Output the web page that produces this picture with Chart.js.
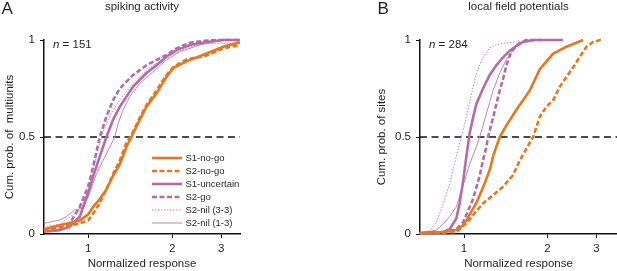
<!DOCTYPE html>
<html>
<head>
<meta charset="utf-8">
<script src="https://cdn.jsdelivr.net/npm/chart.js@4.4.1/dist/chart.umd.min.js"></script>
<style>
  html, body { margin: 0; padding: 0; background: #fff; }
  #wrap { position: relative; width: 617px; height: 271px; overflow: hidden; }
  canvas { position: absolute; top: 0; }
  #chartA { left: 0; }
  #chartB { left: 310px; }
</style>
</head>
<body>
<div id="wrap">
  <canvas id="chartA" width="310" height="271"></canvas>
  <canvas id="chartB" width="307" height="271"></canvas>
</div>
<script>
const FONT = "'Liberation Sans', Arial, sans-serif";
const TEXT = '#231f20';
const ORANGE = '#e8761f';
const PURPLE = '#b56ba9';
const PURPLE_THIN = '#c083b7';

const seriesLabels = ['S1-no-go', 'S2-no-go', 'S1-uncertain', 'S2-go', 'S2-nil (3-3)', 'S2-nil (1-3)'];
const xTicks = [1, 2, 3];
const yTicks = [0, 0.5, 1];
const halfLevel = 0.5;

// panel A: spiking activity (n = 151)
const aRangeX = [0.695, 3.5];
const aS1NogoX = [0.695, 0.791, 0.934, 1.0, 1.042, 1.101, 1.163, 1.229, 1.299, 1.372, 1.43, 1.532, 1.619, 1.758, 1.909, 2.017, 2.251, 2.656, 3.047, 3.497];
const aS1NogoY = [0.025, 0.045, 0.07, 0.10, 0.14, 0.18, 0.23, 0.30, 0.36, 0.45, 0.50, 0.59, 0.656, 0.725, 0.81, 0.855, 0.89, 0.93, 0.965, 0.988];
const aS2NogoX = [0.695, 0.791, 0.934, 1.0, 1.042, 1.101, 1.163, 1.229, 1.299, 1.372, 1.43, 1.532, 1.619, 1.758, 1.909, 2.017, 2.251, 2.656, 3.047, 3.497];
const aS2NogoY = [0.017, 0.03, 0.055, 0.07, 0.105, 0.16, 0.23, 0.31, 0.38, 0.47, 0.51, 0.60, 0.665, 0.74, 0.82, 0.86, 0.90, 0.92, 0.957, 0.975];
const aS1UncX = [0.695, 0.791, 0.86, 0.934, 1.0, 1.042, 1.101, 1.163, 1.229, 1.299, 1.372, 1.45, 1.619, 1.758, 1.909, 2.073, 2.314, 2.656, 3.047, 3.497];
const aS1UncY = [0.012, 0.02, 0.038, 0.09, 0.21, 0.296, 0.40, 0.50, 0.59, 0.656, 0.708, 0.76, 0.83, 0.87, 0.914, 0.948, 0.974, 0.99, 1.0, 1.0];
const aS2GoX = [0.695, 0.791, 0.86, 0.934, 1.0, 1.042, 1.101, 1.163, 1.229, 1.299, 1.372, 1.45, 1.619, 1.758, 1.909, 2.073, 2.314, 2.656, 2.964, 3.497];
const aS2GoY = [0.02, 0.034, 0.055, 0.14, 0.244, 0.347, 0.50, 0.605, 0.69, 0.75, 0.785, 0.82, 0.87, 0.897, 0.923, 0.957, 0.986, 0.997, 1.0, 1.0];
const aNil33X = [0.695, 0.791, 0.934, 1.0, 1.042, 1.116, 1.163, 1.229, 1.299, 1.45, 1.619, 1.909, 2.314, 2.656, 3.497];
const aNil33Y = [0.038, 0.05, 0.124, 0.22, 0.33, 0.50, 0.57, 0.64, 0.69, 0.777, 0.845, 0.914, 0.966, 0.983, 0.983];
const aNil13X = [0.695, 0.791, 0.836, 0.896, 0.946, 1.0, 1.071, 1.132, 1.196, 1.246, 1.281, 1.335, 1.41, 1.532, 1.71, 1.909, 2.131, 2.513, 2.964, 3.497];
const aNil13Y = [0.055, 0.072, 0.09, 0.124, 0.132, 0.19, 0.31, 0.38, 0.45, 0.50, 0.57, 0.64, 0.708, 0.777, 0.837, 0.897, 0.94, 0.974, 0.997, 1.0];

// panel B: local field potentials (n = 284)
const bRangeX = [0.694, 3.56];
const bS1NogoX = [0.692, 0.84, 0.938, 0.992, 1.02, 1.048, 1.108, 1.171, 1.238, 1.273, 1.308, 1.345, 1.422, 1.545, 1.633, 1.726, 1.876, 2.096, 2.341, 2.689];
const bS1NogoY = [0.005, 0.01, 0.02, 0.045, 0.07, 0.10, 0.16, 0.24, 0.33, 0.40, 0.45, 0.50, 0.56, 0.64, 0.69, 0.74, 0.85, 0.93, 0.965, 1.0];
const bS2NogoX = [0.692, 0.938, 1.02, 1.078, 1.171, 1.273, 1.383, 1.503, 1.589, 1.679, 1.775, 1.876, 1.983, 2.096, 2.215, 2.341, 2.475, 2.616, 2.765, 2.923, 3.089, 3.176];
const bS2NogoY = [0.003, 0.01, 0.055, 0.098, 0.158, 0.20, 0.244, 0.304, 0.38, 0.44, 0.50, 0.605, 0.656, 0.69, 0.76, 0.81, 0.86, 0.914, 0.966, 0.99, 1.0, 1.0];
const bS1UncX = [0.692, 0.84, 0.888, 0.938, 0.965, 0.992, 1.02, 1.048, 1.078, 1.108, 1.171, 1.238, 1.308, 1.383, 1.462, 1.545, 1.633, 1.8, 2.277];
const bS1UncY = [0.005, 0.01, 0.025, 0.08, 0.16, 0.27, 0.40, 0.52, 0.60, 0.67, 0.75, 0.82, 0.87, 0.91, 0.945, 0.97, 0.99, 1.0, 1.0];
const bS2GoX = [0.692, 0.84, 0.938, 0.992, 1.02, 1.078, 1.139, 1.171, 1.204, 1.221, 1.273, 1.308, 1.345, 1.383, 1.422, 1.462, 1.503, 1.589, 1.679, 1.9];
const bS2GoY = [0.003, 0.008, 0.025, 0.06, 0.10, 0.18, 0.30, 0.38, 0.45, 0.50, 0.60, 0.67, 0.74, 0.80, 0.87, 0.92, 0.95, 0.985, 1.0, 1.0];
const bNil33X = [0.692, 0.752, 0.795, 0.84, 0.888, 0.938, 0.978, 1.02, 1.048, 1.108, 1.171, 1.238, 1.308, 1.422, 1.545, 1.58];
const bNil33Y = [0.005, 0.02, 0.06, 0.15, 0.26, 0.40, 0.50, 0.60, 0.68, 0.83, 0.91, 0.96, 0.975, 0.985, 0.99, 1.0];
const bNil13X = [0.692, 0.795, 0.84, 0.888, 0.938, 0.992, 1.048, 1.108, 1.139, 1.204, 1.273, 1.345, 1.422, 1.503, 1.589, 1.7, 2.0];
const bNil13Y = [0.005, 0.02, 0.05, 0.09, 0.14, 0.25, 0.36, 0.45, 0.50, 0.62, 0.74, 0.83, 0.90, 0.95, 0.985, 1.0, 1.0];

const lineStyles = [
    { color: ORANGE, width: 2.6, dash: [] },
    { color: ORANGE, width: 2.6, dash: [5, 2.5] },
    { color: PURPLE, width: 2.6, dash: [] },
    { color: PURPLE, width: 2.6, dash: [5, 2.5] },
    { color: PURPLE_THIN, width: 1, dash: [1.5, 1.5] },
    { color: PURPLE_THIN, width: 1, dash: [] }
];

function pts( xs, ys ){
    return xs.map( ( x, i ) => ( { x: x, y: ys[i] } ) );
}

// titles, panel letter and n label
const panelText = {
    id: 'panelText',
    afterDraw( chart, args, opts ){
        const { ctx, chartArea: ca } = chart;
        ctx.save();
        ctx.fillStyle = TEXT;
        ctx.textBaseline = 'alphabetic';
        ctx.textAlign = 'left';
        ctx.font = '17px ' + FONT;
        ctx.fillText( opts.letter, ca.left - 42.5, 14 );
        ctx.font = '11.5px ' + FONT;
        ctx.textAlign = 'center';
        ctx.fillText( opts.title, ( ca.left + ca.right ) / 2, 10 );
        ctx.textAlign = 'left';
        ctx.font = 'italic 11.5px ' + FONT;
        const nx = ca.left + 9;
        ctx.fillText( 'n', nx, ca.top + 8 );
        const w = ctx.measureText( 'n' ).width;
        ctx.font = '11.5px ' + FONT;
        ctx.fillText( ' = ' + opts.count, nx + w, ca.top + 8 );
        ctx.restore();
    }
};

const insideLegend = {
    id: 'insideLegend',
    afterDatasetsDraw( chart, args, opts ){
        if ( !opts.show ) return;
        const { ctx, chartArea: ca } = chart;
        const items = chart.data.datasets.filter( d => d.inLegend );
        ctx.save();
        ctx.font = '9.5px ' + FONT;
        ctx.textBaseline = 'middle';
        ctx.textAlign = 'left';
        ctx.fillStyle = TEXT;
        const x0 = ca.left + 108;
        const x1 = x0 + 30;
        items.forEach( ( d, i ) => {
            const y = ca.bottom - 11 - ( items.length - 1 - i ) * 13;
            ctx.strokeStyle = d.borderColor;
            ctx.lineWidth = d.borderWidth;
            ctx.setLineDash( d.borderDash || [] );
            ctx.beginPath();
            ctx.moveTo( x0, y );
            ctx.lineTo( x1, y );
            ctx.stroke();
            ctx.fillText( d.label, x1 + 3.5, y );
        } );
        ctx.restore();
    }
};

function makeChart( id, series, range, cfg ){
    const datasets = series.map( ( s, i ) => ( {
        label: seriesLabels[i],
        data: pts( s[0], s[1] ),
        borderColor: lineStyles[i].color,
        borderWidth: lineStyles[i].width,
        borderDash: lineStyles[i].dash,
        pointRadius: 0,
        tension: 0,
        fill: false,
        clip: 4,
        inLegend: true,
        order: i
    } ) );
    datasets.push( {
        label: 'half',
        data: [ { x: range[0], y: halfLevel }, { x: range[1], y: halfLevel } ],
        borderColor: '#111',
        borderWidth: 1.4,
        borderDash: [7, 4.5],
        pointRadius: 0,
        clip: 4,
        inLegend: false,
        order: 20
    } );

    return new Chart( document.getElementById( id ), {
        type: 'line',
        data: { datasets },
        options: {
            responsive: false,
            animation: false,
            layout: { padding: { left: cfg.padLeft, right: cfg.padRight, top: 40, bottom: 0 } },
            plugins: {
                legend: { display: false },
                tooltip: { enabled: false },
                panelText: { letter: cfg.letter, title: cfg.title, count: cfg.count },
                insideLegend: { show: cfg.legend }
            },
            scales: {
                x: {
                    type: 'logarithmic',
                    min: range[0],
                    max: range[1],
                    afterBuildTicks: s => { s.ticks = xTicks.map( v => ( { value: v } ) ); },
                    afterFit: s => { s.height = 37; },
                    ticks: {
                        callback: v => String( v ),
                        color: TEXT,
                        font: { family: FONT, size: 11.5 },
                        padding: 4,
                        maxRotation: 0,
                        autoSkip: false
                    },
                    grid: { drawOnChartArea: false, drawTicks: true, tickLength: 4, color: '#111', lineWidth: 1 },
                    border: { display: true, color: '#111', width: 1.5 },
                    title: { display: true, text: 'Normalized response', color: TEXT, font: { family: FONT, size: 11.5 }, padding: { top: 0, bottom: 0 } }
                },
                y: {
                    min: 0,
                    max: 1,
                    afterBuildTicks: s => { s.ticks = yTicks.map( v => ( { value: v } ) ); },
                    afterFit: s => { s.width = cfg.yWidth; },
                    ticks: {
                        callback: v => String( v ),
                        color: TEXT,
                        font: { family: FONT, size: 11.5 },
                        padding: 5
                    },
                    grid: { drawOnChartArea: false, drawTicks: true, tickLength: 4, color: '#111', lineWidth: 1 },
                    border: { display: true, color: '#111', width: 1.5 },
                    title: { display: true, text: cfg.yTitle, color: TEXT, font: { family: FONT, size: 11.5 }, padding: { top: 3, bottom: 0 } }
                }
            }
        },
        plugins: [ panelText, insideLegend ]
    } );
}

makeChart( 'chartA', [
    [aS1NogoX, aS1NogoY], [aS2NogoX, aS2NogoY], [aS1UncX, aS1UncY],
    [aS2GoX, aS2GoY], [aNil33X, aNil33Y], [aNil13X, aNil13Y]
], aRangeX, {
    letter: 'A', title: 'spiking activity', count: 151, legend: true,
    yTitle: 'Cum. prob. of  multiunits', padLeft: 0, padRight: 70, yWidth: 44
} );

makeChart( 'chartB', [
    [bS1NogoX, bS1NogoY], [bS2NogoX, bS2NogoY], [bS1UncX, bS1UncY],
    [bS2GoX, bS2GoY], [bNil33X, bNil33Y], [bNil13X, bNil13Y]
], bRangeX, {
    letter: 'B', title: 'local field potentials', count: 284, legend: false,
    yTitle: 'Cum. prob. of sites', padLeft: 62, padRight: 0, yWidth: 48
} );
</script>
</body>
</html>
